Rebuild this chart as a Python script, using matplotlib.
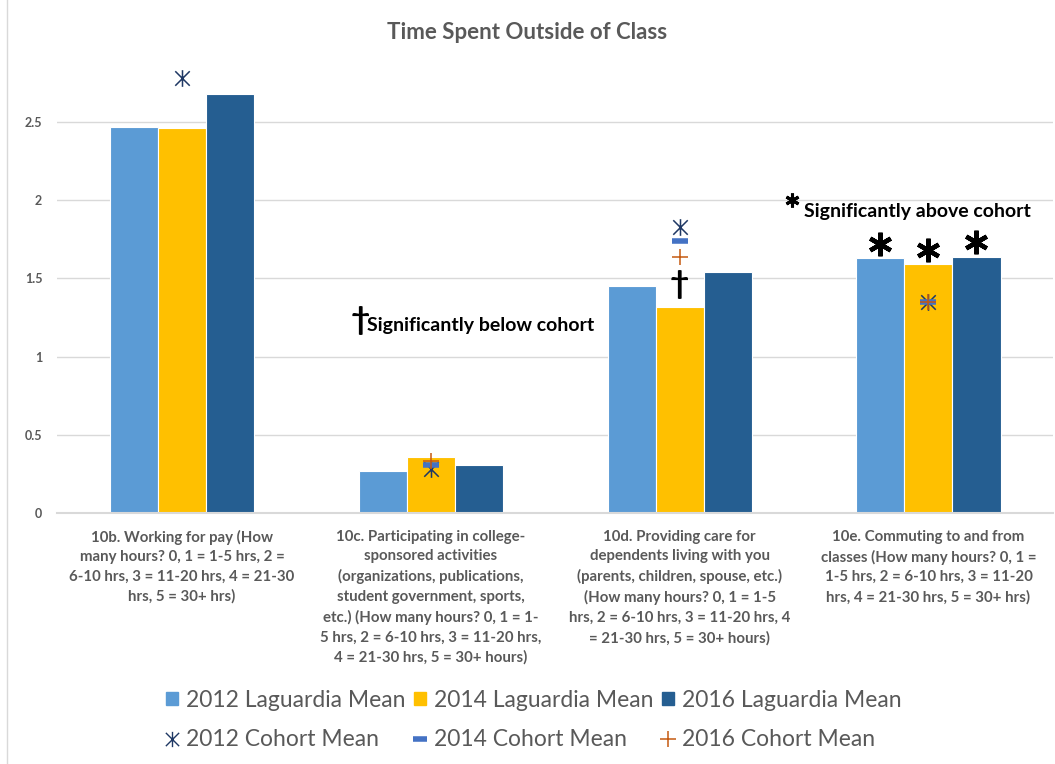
import numpy as np
import matplotlib.pyplot as plt
from matplotlib.lines import Line2D
from matplotlib.patches import Patch
from matplotlib.path import Path

plt.rcParams['font.family'] = ['Lato', 'DejaVu Sans']

# Dati
categories = [
    "10b. Working for pay (How\nmany hours? 0, 1 = 1-5 hrs, 2 =\n6-10 hrs, 3 = 11-20 hrs, 4 = 21-30\nhrs, 5 = 30+ hrs)",
    "10c. Participating in college-\nsponsored activities\n(organizations, publications,\nstudent government, sports,\netc.) (How many hours? 0, 1 = 1-\n5 hrs, 2 = 6-10 hrs, 3 = 11-20 hrs,\n4 = 21-30 hrs, 5 = 30+ hours)",
    "10d. Providing care for\ndependents living with you\n(parents, children, spouse, etc.)\n(How many hours? 0, 1 = 1-5\nhrs, 2 = 6-10 hrs, 3 = 11-20 hrs, 4\n= 21-30 hrs, 5 = 30+ hours)",
    "10e. Commuting to and from\nclasses (How many hours? 0, 1 =\n1-5 hrs, 2 = 6-10 hrs, 3 = 11-20\nhrs, 4 = 21-30 hrs, 5 = 30+ hrs)",
]
lg_2012 = [2.47, 0.27, 1.45, 1.63]
lg_2014 = [2.46, 0.36, 1.32, 1.59]
lg_2016 = [2.68, 0.31, 1.54, 1.64]
cohort_2012 = [2.78, 0.28, 1.83, 1.35]
cohort_2014 = [np.nan, 0.31, 1.74, 1.35]
cohort_2016 = [np.nan, 0.33, 1.64, 1.35]

c2012 = '#5B9BD5'
c2014 = '#FFC000'
c2016 = '#255E91'
grey = '#595959'

# marker "X con asta verticale" come in Excel
star = Path([(-1, -1), (1, 1), (-1, 1), (1, -1), (0, -1.15), (0, 1.15)],
            [Path.MOVETO, Path.LINETO] * 3)

fig = plt.figure(figsize=(10.55, 7.64), dpi=100)
ax = fig.add_axes([0.0545, 0.3285, 0.9435, 0.61])

x = np.arange(len(categories))
w = 0.193
ax.bar(x - w, lg_2012, w, color=c2012, edgecolor='white', linewidth=0.8, zorder=2)
ax.bar(x, lg_2014, w, color=c2014, edgecolor='white', linewidth=0.8, zorder=2)
ax.bar(x + w, lg_2016, w, color=c2016, edgecolor='white', linewidth=0.8, zorder=2)

ax.plot(x, cohort_2012, linestyle='none', marker=star, ms=12, mew=1.1, color='#1F3864', zorder=3)
ax.plot(x, cohort_2014, linestyle='none', marker='_', ms=11, mew=4, color='#4472C4', zorder=3)
ax.plot(x, cohort_2016, linestyle='none', marker='+', ms=11, mew=1.1, color='#C55A11', zorder=3)

ax.set_xlim(-0.5, 3.5)
ax.set_ylim(0, 2.98)
ax.set_yticks([0, 0.5, 1, 1.5, 2, 2.5])
ax.set_yticklabels(['0', '0.5', '1', '1.5', '2', '2.5'])
ax.grid(axis='y', color='#D9D9D9', linewidth=1, zorder=0)
ax.set_axisbelow(True)
for s in ['top', 'right', 'left']:
    ax.spines[s].set_visible(False)
ax.spines['bottom'].set_color('#D9D9D9')
ax.spines['bottom'].set_linewidth(1.5)
ax.tick_params(axis='y', length=0, labelsize=9, labelcolor=grey, pad=11)
ax.tick_params(axis='x', length=0, pad=12)
for t in ax.get_yticklabels():
    t.set_fontweight('bold')
ax.set_xticks(x)
ax.set_xticklabels(categories, fontsize=10.8, fontweight='bold', color=grey, linespacing=1.5, va='top')

fig.text(0.5, 0.957, 'Time Spent Outside of Class', ha='center', va='center',
         fontsize=16, fontweight='bold', color=grey)

# annotazioni di significatività
ax.text(x[1] - 0.285, 1.23, '†', fontsize=24, fontweight='bold', ha='center', va='center')
ax.text(x[1] - 0.255, 1.2, 'Significantly below cohort', fontsize=14, fontweight='bold', ha='left', va='center')
ax.text(x[2], lg_2014[2] + 0.14, '†', fontsize=24, fontweight='bold', ha='center', va='center')
ax.plot(x[3] - 0.55, 2.0, linestyle='none', marker=(6, 2, 0), ms=10, mew=2.2, color='black')
ax.text(x[3] - 0.5, 1.93, 'Significantly above cohort', fontsize=14, fontweight='bold', ha='left', va='center')
# asterischi solo sul gruppo 10e
ax.plot(x[3] + np.array([-w, 0, w]), np.array([lg_2012[3], lg_2014[3], lg_2016[3]]) + 0.09,
        linestyle='none', marker=(6, 2, 0), ms=17, mew=3.2, color='black', zorder=3)

handles = [
    Patch(color=c2012), Line2D([], [], linestyle='none', marker=star, ms=11, mew=1.0, color='#1F3864'),
    Patch(color=c2014), Line2D([], [], linestyle='none', marker='_', ms=10, mew=4, color='#4472C4'),
    Patch(color=c2016), Line2D([], [], linestyle='none', marker='+', ms=11, mew=1.1, color='#C55A11'),
]
labels = ['2012 Laguardia Mean', '2012 Cohort Mean', '2014 Laguardia Mean',
          '2014 Cohort Mean', '2016 Laguardia Mean', '2016 Cohort Mean']
leg = fig.legend(handles, labels, ncol=3, loc='center', bbox_to_anchor=(0.506, 0.0576),
                 frameon=False, fontsize=16.5, handlelength=0.5, handleheight=0.5,
                 handletextpad=0.35, columnspacing=0.4, labelspacing=0.8)
for t in leg.get_texts():
    t.set_color(grey)

fig.add_artist(Line2D([0.007, 0.007], [0, 1], color='#D9D9D9', lw=1))

fig.savefig('out.png', dpi=100)
